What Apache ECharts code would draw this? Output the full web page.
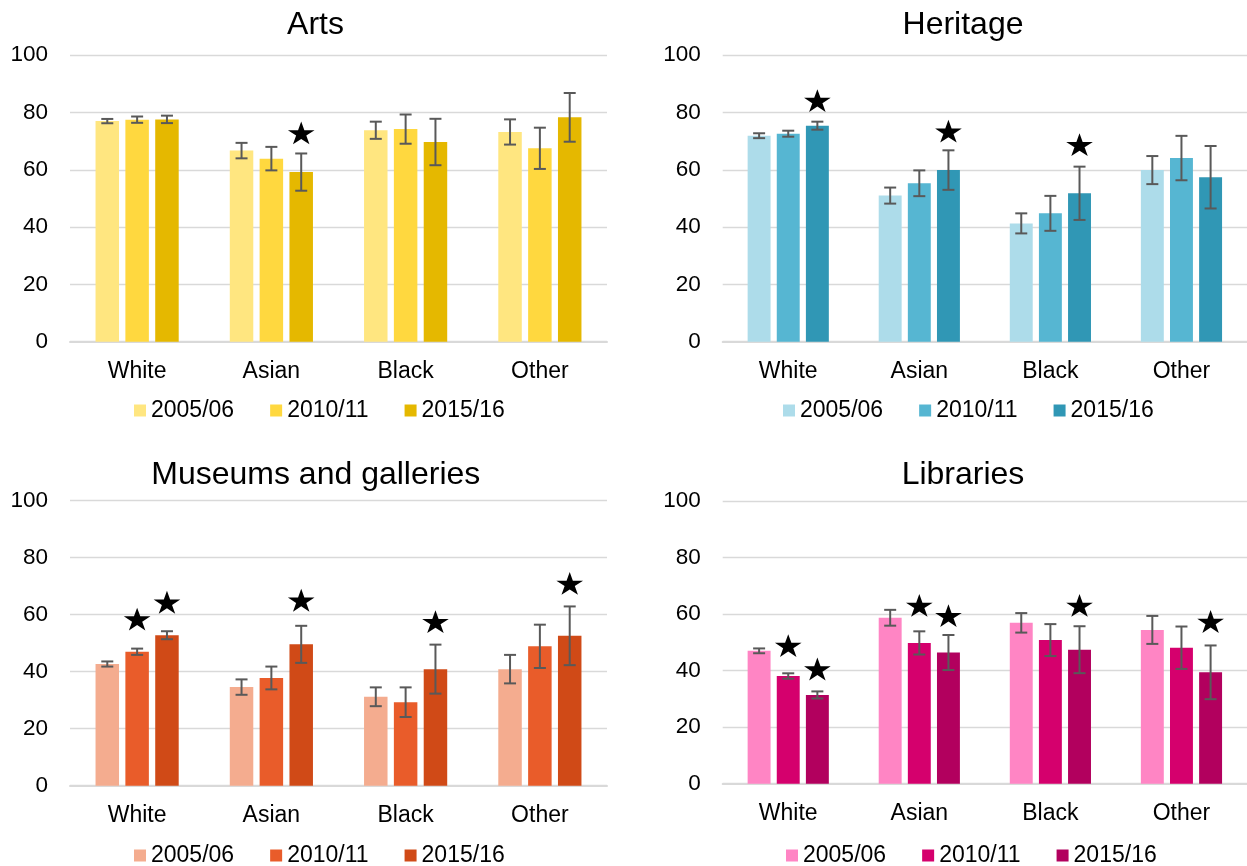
<!DOCTYPE html>
<html>
<head>
<meta charset="utf-8">
<script src="https://cdn.jsdelivr.net/npm/echarts@6/dist/echarts.min.js"></script>
<style>
  html, body { margin: 0; padding: 0; background: #fff; }
  #chart { width: 1247px; height: 866px; }
</style>
</head>
<body>
<div id="chart"></div>
<script>
// ---------- data ----------
const categories = ['White', 'Asian', 'Black', 'Other'];
const years = ['2005/06', '2010/11', '2015/16'];
const yTicks = [0, 20, 40, 60, 80, 100];

// Arts
const arts2005 = [77.0, 66.7, 73.8, 73.2];
const arts2010 = [77.5, 63.9, 74.2, 67.5];
const arts2015 = [77.6, 59.2, 69.7, 78.3];
const arts2005Err = [0.75, 2.7, 3.0, 4.4];
const arts2010Err = [1.1, 4.1, 5.1, 7.2];
const arts2015Err = [1.3, 6.5, 8.1, 8.5];
const arts2005Star = [null, null, null, null];
const arts2010Star = [null, null, null, null];
const arts2015Star = [null, 72.8, null, null];

// Heritage
const heritage2005 = [71.9, 51.0, 41.3, 59.9];
const heritage2010 = [72.6, 55.3, 44.8, 64.1];
const heritage2015 = [75.4, 59.9, 51.8, 57.4];
const heritage2005Err = [0.85, 2.8, 3.5, 4.9];
const heritage2010Err = [1.05, 4.5, 6.1, 7.75];
const heritage2015Err = [1.4, 6.9, 9.3, 10.9];
const heritage2005Star = [null, null, null, null];
const heritage2010Star = [null, null, null, null];
const heritage2015Star = [84.1, 73.4, 68.7, null];

// Museums and galleries
const museums2005 = [42.7, 34.6, 31.2, 40.9];
const museums2010 = [47.0, 37.8, 29.3, 48.9];
const museums2015 = [52.8, 49.6, 40.9, 52.6];
const museums2005Err = [0.9, 2.7, 3.3, 5.0];
const museums2010Err = [1.1, 4.0, 5.2, 7.6];
const museums2015Err = [1.4, 6.5, 8.6, 10.3];
const museums2005Star = [null, null, null, null];
const museums2010Star = [58.4, null, null, null];
const museums2015Star = [64.3, 65.0, 57.5, 70.9];

// Libraries
const libraries2005 = [47.0, 58.7, 56.9, 54.4];
const libraries2010 = [38.1, 49.8, 50.8, 48.1];
const libraries2015 = [31.4, 46.4, 47.4, 39.4];
const libraries2005Err = [0.85, 2.8, 3.45, 4.95];
const libraries2010Err = [0.95, 4.1, 5.65, 7.5];
const libraries2015Err = [1.25, 6.2, 8.3, 9.5];
const libraries2005Star = [null, null, null, null];
const libraries2010Star = [48.8, 63.0, null, null];
const libraries2015Star = [40.5, 59.4, 63.0, 57.3];

// ---------- panels ----------
const FONT = "'Liberation Sans', Arial, sans-serif";
const panels = [
  { title: 'Arts', values: [arts2005, arts2010, arts2015], errs: [arts2005Err, arts2010Err, arts2015Err],
    stars: [arts2005Star, arts2010Star, arts2015Star], colors: ['#FFE680', '#FFD83F', '#E5B800'],
    grid: { left: 70, top: 55.2, width: 537, height: 286.5 }, titleX: 315.5, titleY: 25.5, legendLeft: 134, legendTop: 399 },
  { title: 'Heritage', values: [heritage2005, heritage2010, heritage2015], errs: [heritage2005Err, heritage2010Err, heritage2015Err],
    stars: [heritage2005Star, heritage2010Star, heritage2015Star], colors: ['#ADDCEA', '#56B6D2', '#3097B5'],
    grid: { left: 722.7, top: 55.2, width: 532, height: 286.5 }, titleX: 963, titleY: 25.5, legendLeft: 783, legendTop: 399 },
  { title: 'Museums and galleries', values: [museums2005, museums2010, museums2015], errs: [museums2005Err, museums2010Err, museums2015Err],
    stars: [museums2005Star, museums2010Star, museums2015Star], colors: ['#F4AC8F', '#E95C2A', '#D04A17'],
    grid: { left: 70, top: 500.7, width: 537, height: 285 }, titleX: 315.8, titleY: 475, legendLeft: 134, legendTop: 844 },
  { title: 'Libraries', values: [libraries2005, libraries2010, libraries2015], errs: [libraries2005Err, libraries2010Err, libraries2015Err],
    stars: [libraries2005Star, libraries2010Star, libraries2015Star], colors: ['#FF85C4', '#D5006D', '#B2005E'],
    grid: { left: 722.7, top: 501, width: 532, height: 282.7 }, titleX: 963, titleY: 475, legendLeft: 786, legendTop: 844 }
];

const BAR_W = 0.175;   // fraction of category band
const BAR_GAP = 0.27;  // fraction of bar width

function starPoints(cx, cy, R) {
  const pts = [];
  const r = R * 0.382;
  for (let k = 0; k < 10; k++) {
    const ang = -Math.PI / 2 + k * Math.PI / 5;
    const rad = k % 2 === 0 ? R : r;
    pts.push([cx + rad * Math.cos(ang), cy + rad * Math.sin(ang) * 0.9]);
  }
  return pts;
}

function renderErr(params, api) {
  const cat = api.value(0), yr = api.value(1), val = api.value(2), err = api.value(3), star = api.value(4);
  const band = api.size([1, 0])[0];
  const w = band * BAR_W, g = w * BAR_GAP;
  const dx = (yr - 1) * (w + g);
  const top = api.coord([cat, val + err]);
  const bot = api.coord([cat, val - err]);
  const x = top[0] + dx;
  const st = { stroke: '#595959', lineWidth: 2 };
  const children = [
    { type: 'line', shape: { x1: x, y1: top[1], x2: x, y2: bot[1] }, style: st },
    { type: 'line', shape: { x1: x - 6, y1: top[1], x2: x + 6, y2: top[1] }, style: st },
    { type: 'line', shape: { x1: x - 6, y1: bot[1], x2: x + 6, y2: bot[1] }, style: st }
  ];
  if (star > 0) {
    const s = api.coord([cat, star]);
    children.push({ type: 'polygon', shape: { points: starPoints(x, s[1] + 1, 14) }, style: { fill: '#000' } });
  }
  return { type: 'group', children: children };
}

const grids = [], xAxes = [], yAxes = [], series = [], legends = [], graphics = [];
panels.forEach((p, pi) => {
  grids.push(Object.assign({ containLabel: false }, p.grid));
  xAxes.push({
    type: 'category', gridIndex: pi, data: categories,
    axisLine: { show: true, lineStyle: { color: '#D9D9D9', width: 2 } },
    axisTick: { show: false },
    axisLabel: { color: '#000', fontSize: 23, fontFamily: FONT, margin: 18 }
  });
  yAxes.push({
    type: 'value', gridIndex: pi, min: yTicks[0], max: yTicks[yTicks.length - 1], interval: 20,
    axisLine: { show: false }, axisTick: { show: false },
    splitLine: { lineStyle: { color: '#D9D9D9', width: 1.3 } },
    axisLabel: { color: '#000', fontSize: 22.5, fontFamily: FONT, margin: 22 }
  });
  const names = years.map(y => 'P' + pi + '|' + y);
  years.forEach((y, yi) => {
    series.push({
      type: 'bar', name: names[yi], xAxisIndex: pi, yAxisIndex: pi,
      data: p.values[yi], barWidth: (BAR_W * 100) + '%', barGap: (BAR_GAP * 100) + '%',
      itemStyle: { color: p.colors[yi] }, z: 2
    });
  });
  const errData = [];
  years.forEach((y, yi) => {
    categories.forEach((c, ci) => {
      const s = p.stars[yi][ci];
      errData.push([ci, yi, p.values[yi][ci], p.errs[yi][ci], s == null ? -1 : s]);
    });
  });
  series.push({
    type: 'custom', name: 'err' + pi, xAxisIndex: pi, yAxisIndex: pi,
    renderItem: renderErr, data: errData, encode: { x: 0, y: 2 }, z: 5, clip: false
  });
  legends.push({
    data: names, left: p.legendLeft, top: p.legendTop, padding: 0,
    itemWidth: 12, itemHeight: 12, itemGap: 36, icon: 'rect',
    selectedMode: false,
    formatter: n => n.split('|')[1],
    textStyle: { color: '#000', fontSize: 23, fontFamily: FONT, padding: [0, 0, 0, 0] }
  });
  graphics.push({
    type: 'text', x: p.titleX, y: p.titleY,
    style: { text: p.title, fill: '#000', font: '32px ' + FONT, textAlign: 'center', textVerticalAlign: 'middle' }
  });
});

const chart = echarts.init(document.getElementById('chart'));
chart.setOption({
  animation: false,
  backgroundColor: '#fff',
  grid: grids, xAxis: xAxes, yAxis: yAxes, series: series, legend: legends, graphic: graphics
});
</script>
</body>
</html>
